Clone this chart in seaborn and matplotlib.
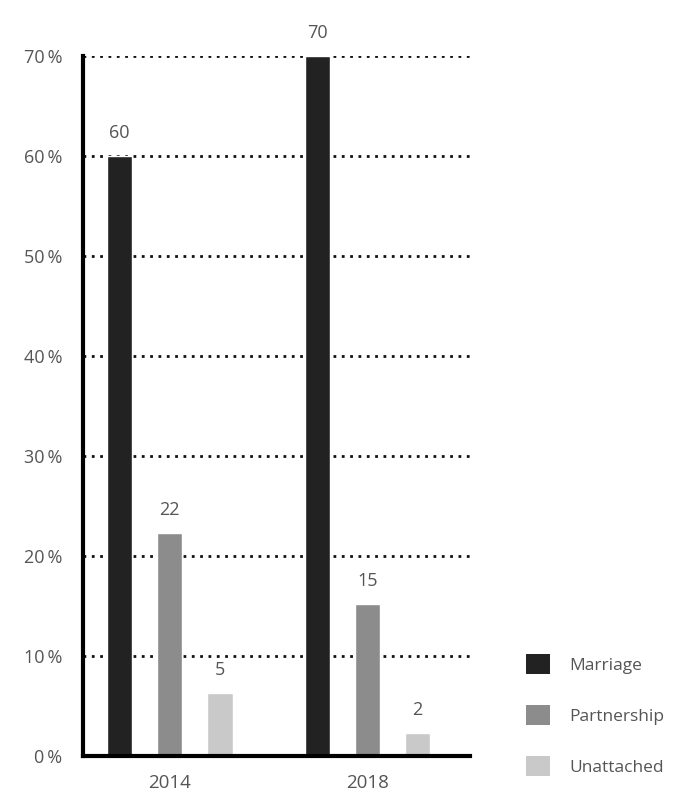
import matplotlib
matplotlib.use("Agg")
import matplotlib.pyplot as plt
from matplotlib.patches import Patch
import seaborn as sns
import pandas as pd

years = ["2014", "2018"]
statuses = ["Marriage", "Partnership", "Unattached"]
marriage = [60, 70]
partnership = [22.3, 15.2]
unattached = [6.3, 2.3]
label_marriage = ["60", "70"]
label_partnership = ["22", "15"]
label_unattached = ["5", "2"]
yticks = [0, 10, 20, 30, 40, 50, 60, 70]
colors = ["#222222", "#8c8c8c", "#c9c9c9"]

df = pd.DataFrame({
    "year": years * 3,
    "status": [s for s in statuses for _ in years],
    "value": marriage + partnership + unattached,
})

sns.set_theme(style="white")
plt.rcParams["font.family"] = ["Open Sans", "DejaVu Sans"]

fig = plt.figure(figsize=(6.76, 7.96), dpi=100)
ax = fig.add_axes([0.1228, 0.0503, 0.695 - 0.1228, 0.9296 - 0.0503])

sns.barplot(data=df, x="year", y="value", hue="status", order=years,
            hue_order=statuses, palette=colors, width=0.762, gap=0.5,
            saturation=1, ax=ax, legend=False)

labels = [label_marriage, label_partnership, label_unattached]
for cont, labs in zip(ax.containers, labels):
    ax.bar_label(cont, labels=labs, padding=10, fontsize=13, color="#555555",
                 clip_on=False)

ax.set_ylim(0, 70)
ax.set_xlim(-0.44, 1.52)
ax.set_yticks(yticks)
ax.set_yticklabels([f"{t}\u2009%" for t in yticks], fontsize=13, color="#555555")
ax.tick_params(axis="both", length=0)
ax.tick_params(axis="y", pad=15)
ax.tick_params(axis="x", labelsize=13.5, labelcolor="#555555", pad=13)
ax.set_xlabel("")
ax.set_ylabel("")

for y in yticks[1:]:
    ax.axhline(y, color="#111111", linestyle=(0, (1, 2)), linewidth=2, zorder=0)

for s in ["top", "right"]:
    ax.spines[s].set_visible(False)
for s in ["left", "bottom"]:
    ax.spines[s].set_color("black")
    ax.spines[s].set_linewidth(3)

handles = [Patch(facecolor=c, edgecolor="none", label=s) for c, s in zip(colors, statuses)]
fig.legend(handles=handles, loc="lower left", bbox_to_anchor=(0.755, 0.005),
           frameon=False, fontsize=12.5, labelcolor="#555555",
           handlelength=1.4, handleheight=1.4, labelspacing=1.8, handletextpad=1.1)

fig.savefig("out.png", dpi=100)
